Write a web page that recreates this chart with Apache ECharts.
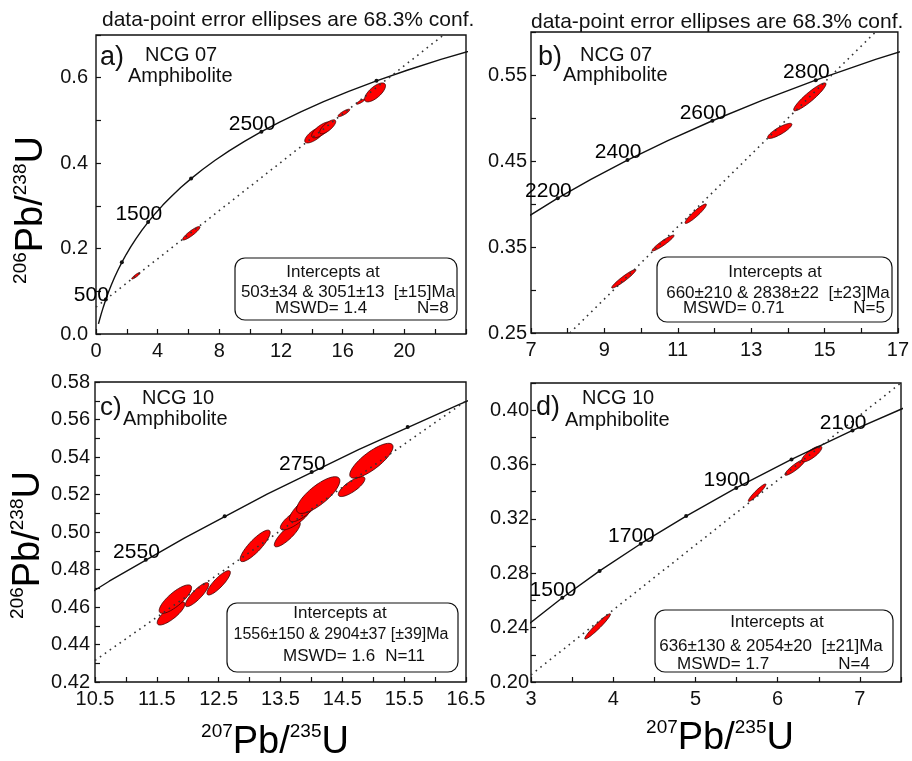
<!DOCTYPE html>
<html>
<head>
<meta charset="utf-8">
<title>U-Pb concordia diagrams NCG 07 / NCG 10</title>
<script src="https://cdn.jsdelivr.net/npm/echarts@6.0.0/dist/echarts.min.js"></script>
<style>
  html, body { margin: 0; padding: 0; background: #fff; }
  #chart { width: 912px; height: 761px; }
</style>
</head>
<body>
<div id="chart"></div>
<script>
// concordia curve [207Pb/235U, 206Pb/238U], 150 Ma then every 100 Ma up to 3300 Ma
const concordia = [
  [0.1592, 0.02354], [0.2177, 0.03151], [0.3437, 0.04764], [0.4828, 0.06402],
  [0.6363, 0.08065], [0.8056, 0.09754], [0.9925, 0.11470], [1.1987, 0.13213],
  [1.4263, 0.14983], [1.6774, 0.16780], [1.9545, 0.18606], [2.2603, 0.20460],
  [2.5977, 0.22344], [2.9701, 0.24256], [3.3810, 0.26199], [3.8344, 0.28172],
  [4.3348, 0.30175], [4.8869, 0.32211], [5.4962, 0.34277], [6.1685, 0.36377],
  [6.9105, 0.38509], [7.7291, 0.40674], [8.6326, 0.42873], [9.6296, 0.45107],
  [10.7297, 0.47375], [11.9437, 0.49679], [13.2834, 0.52019], [14.7617, 0.54396],
  [16.3929, 0.56810], [18.1931, 0.59261], [20.1795, 0.61751], [22.3716, 0.64280],
  [24.7905, 0.66848]
]

// age marks on the concordia [x, y, age Ma]
const marksA = [[0.6363, 0.08065, 500], [1.6774, 0.1678, 1000], [3.3810, 0.26199, 1500],
  [6.1685, 0.36377, 2000], [10.7297, 0.47375, 2500], [18.1931, 0.59261, 3000]]
const marksB = [[7.7291, 0.40674, 2200], [9.6296, 0.45107, 2400], [11.9437, 0.49679, 2600],
  [14.7617, 0.54396, 2800]]
const marksC = [[11.3218, 0.48523, 2550], [12.5970, 0.50845, 2650], [14.0043, 0.53203, 2750],
  [15.5572, 0.55598, 2850]]
const marksD = [[3.3810, 0.26199, 1500], [3.8344, 0.28172, 1600], [4.3348, 0.30175, 1700],
  [4.8869, 0.32211, 1800], [5.4962, 0.34277, 1900], [6.1685, 0.36377, 2000], [6.9105, 0.38509, 2100]]

// which age marks carry a label
const labeledA = [500, 1500, 2500]
const labeledB = [2200, 2400, 2600, 2800]
const labeledC = [2550, 2750]
const labeledD = [1500, 1700, 1900, 2100]

// discordia chords (two points on each line)
const discA = [[0, 0.063], [22.54, 0.70]]
const discB = [[8.06, 0.25], [16.39, 0.60]]
const discC = [[10.5, 0.4315], [16.5, 0.5699]]
const discD = [[3, 0.2053], [7.5, 0.4201]]

// error ellipses [x, y, half-width x, half-height y, rho]
const ellA = [
  [2.59, 0.1363, 0.27, 0.0075, 0.9],
  [6.18, 0.2358, 0.56, 0.0157, 0.9],
  [14.19, 0.466, 0.65, 0.0187, 0.72],
  [14.64, 0.478, 0.65, 0.0187, 0.72],
  [15.03, 0.485, 0.52, 0.0164, 0.75],
  [16.08, 0.5176, 0.38, 0.0087, 0.85],
  [17.16, 0.5438, 0.27, 0.0059, 0.85],
  [18.10, 0.5656, 0.68, 0.0222, 0.7]
]
const ellB = [
  [9.53, 0.3131, 0.33, 0.0108, 0.95],
  [10.60, 0.3546, 0.30, 0.0092, 0.94],
  [11.49, 0.3887, 0.29, 0.0113, 0.93],
  [13.78, 0.4850, 0.33, 0.0088, 0.85],
  [14.60, 0.5246, 0.44, 0.0162, 0.92]
]
const ellC = [
  [11.73, 0.4566, 0.224, 0.0062, 0.8],
  [11.80, 0.4642, 0.262, 0.0076, 0.8],
  [12.15, 0.4666, 0.189, 0.0064, 0.85],
  [12.50, 0.4729, 0.189, 0.0065, 0.85],
  [13.09, 0.4926, 0.243, 0.0084, 0.85],
  [13.61, 0.4988, 0.21, 0.0067, 0.84],
  [13.74, 0.5073, 0.243, 0.0062, 0.8],
  [13.90, 0.5131, 0.256, 0.0076, 0.8],
  [14.11, 0.5197, 0.35, 0.0098, 0.78],
  [14.65, 0.5242, 0.215, 0.0053, 0.78],
  [14.97, 0.538, 0.35, 0.0093, 0.8]
]
const ellD = [
  [3.81, 0.2409, 0.156, 0.0093, 0.96],
  [5.75, 0.3393, 0.107, 0.0064, 0.94],
  [6.21, 0.3579, 0.122, 0.0058, 0.9],
  [6.415, 0.3678, 0.122, 0.0058, 0.8]
]

const FONT = 'Liberation Sans, Arial, sans-serif'
const INK = '#111'

const chart = echarts.init(document.getElementById('chart'))

function renderEllipse(params, api) {
  const cx = api.value(0), cy = api.value(1)
  const sx = api.value(2), sy = api.value(3), r = api.value(4)
  const q = Math.sqrt(1 - r * r)
  const pts = []
  for (let i = 0; i < 60; i++) {
    const t = i / 60 * Math.PI * 2
    pts.push(api.coord([cx + sx * Math.cos(t), cy + sy * (r * Math.cos(t) + q * Math.sin(t))]))
  }
  return {
    type: 'polygon',
    shape: { points: pts },
    style: { fill: '#ff0000', stroke: '#3a0000', lineWidth: 0.8 },
  }
}

function xAxis(i, min, max, interval, fmt) {
  return {
    gridIndex: i, type: 'value', min, max, interval,
    axisLine: { show: false },
    axisTick: { inside: true, length: 5, lineStyle: { color: INK, width: 1.2 } },
    splitLine: { show: false },
    axisLabel: { formatter: fmt, color: INK, fontSize: 20, fontFamily: FONT, margin: 7, showMaxLabel: true },
  }
}

function yAxis(i, min, max, interval, fmt, margin) {
  return {
    gridIndex: i, type: 'value', min, max, interval,
    axisLine: { show: false },
    axisTick: { inside: true, length: 5, lineStyle: { color: INK, width: 1.2 } },
    splitLine: { show: false },
    axisLabel: { formatter: fmt, color: INK, fontSize: 20, fontFamily: FONT, margin },
  }
}

function panelSeries(i, ell, disc, marks, labeled) {
  return [
    {
      type: 'custom', xAxisIndex: i, yAxisIndex: i, renderItem: renderEllipse,
      encode: { x: 0, y: 1 }, data: ell, clip: true, z: 2, silent: true,
    },
    {
      type: 'line', xAxisIndex: i, yAxisIndex: i, data: concordia, showSymbol: false,
      clip: true, z: 3, silent: true,
      lineStyle: { color: INK, width: 1.4 },
    },
    {
      type: 'line', xAxisIndex: i, yAxisIndex: i, data: disc, showSymbol: false,
      clip: true, z: 4, silent: true,
      lineStyle: { color: '#333', width: 1.6, type: [1.6, 4.4] },
    },
    {
      type: 'scatter', xAxisIndex: i, yAxisIndex: i, symbolSize: 4, z: 5, silent: true,
      itemStyle: { color: INK, opacity: 1 },
      data: marks.map(m => ({
        value: [m[0], m[1]],
        label: {
          show: labeled.includes(m[2]), formatter: String(m[2]),
          position: 'left', distance: 0, align: 'right', verticalAlign: 'bottom',
          // the lowest mark of panel a has its label pushed further left
          offset: m[2] === 500 ? [5, 6] : [16, 3],
          color: '#000', fontSize: 21, fontFamily: FONT, textBorderWidth: 0,
        },
      })),
    },
  ]
}

function txt(x, y, text, size, align) {
  return {
    type: 'text', x, y, z: 20, silent: true,
    style: { text, fill: INK, font: size + 'px ' + FONT, align: align || 'left', verticalAlign: 'middle' },
  }
}

function box(x, y, w, h) {
  return {
    type: 'rect', z: 15, silent: true,
    shape: { x, y, width: w, height: h, r: 10 },
    style: { fill: '#fff', stroke: INK, lineWidth: 1.2 },
  }
}

const pbRich = {
  s: { fontSize: 19, fontFamily: FONT, color: INK, verticalAlign: 'top', lineHeight: 40 },
  b: { fontSize: 38, fontFamily: FONT, color: INK, verticalAlign: 'bottom', lineHeight: 40 },
}

function axisTitle(x, y, text, rot) {
  return {
    type: 'text', x, y, rotation: rot, z: 20, silent: true,
    style: { text, rich: pbRich, align: 'center', verticalAlign: 'middle' },
  }
}

const gridStyle = { show: true, borderColor: INK, borderWidth: 1.4, backgroundColor: 'transparent' }
const near = (v, step) => Math.abs(v / step - Math.round(v / step)) < 1e-6

chart.setOption({
  animation: false,
  backgroundColor: '#fff',
  grid: [
    { left: 96, top: 35, width: 370, height: 299, ...gridStyle },
    { left: 531, top: 32, width: 369, height: 301, ...gridStyle },
    { left: 95, top: 382, width: 371, height: 300, ...gridStyle },
    { left: 531, top: 383, width: 370, height: 299, ...gridStyle },
  ],
  xAxis: [
    xAxis(0, 0, 24, 2, v => (near(v, 4) && v < 23) ? String(Math.round(v)) : ''),
    xAxis(1, 7, 17, 1, v => (Math.round(v) % 2 === 1) ? String(Math.round(v)) : ''),
    xAxis(2, 10.5, 16.5, 0.5, v => near(v - 0.5, 1) ? v.toFixed(1) : ''),
    xAxis(3, 3, 7.5, 0.5, v => (near(v, 1) && v < 7.3) ? String(Math.round(v)) : ''),
  ],
  yAxis: [
    yAxis(0, 0, 0.7, 0.1, v => (near(v, 0.2) && v < 0.65) ? v.toFixed(1) : '', 8),
    yAxis(1, 0.25, 0.6, 0.05, v => near(v - 0.05, 0.1) ? v.toFixed(2) : '', 4),
    yAxis(2, 0.42, 0.58, 0.01, v => near(v, 0.02) ? v.toFixed(2) : '', 5),
    yAxis(3, 0.2, 0.42, 0.02, v => (near(v, 0.04) && v < 0.41) ? v.toFixed(2) : '', 2),
  ],
  series: [
    ...panelSeries(0, ellA, discA, marksA, labeledA),
    ...panelSeries(1, ellB, discB, marksB, labeledB),
    ...panelSeries(2, ellC, discC, marksC, labeledC),
    ...panelSeries(3, ellD, discD, marksD, labeledD),
  ],
  graphic: [
    txt(102, 20, 'data-point error ellipses are 68.3% conf.', 21),
    txt(531, 22, 'data-point error ellipses are 68.3% conf.', 21),

    txt(100, 58, 'a)', 27), txt(145, 55, 'NCG 07', 20), txt(128, 76, 'Amphibolite', 20),
    txt(538, 58, 'b)', 27), txt(580, 55, 'NCG 07', 20), txt(563, 75, 'Amphibolite', 20),
    txt(100, 408, 'c)', 26), txt(142, 398, 'NCG 10', 20), txt(123, 419, 'Amphibolite', 20),
    txt(536, 408, 'd)', 27), txt(582, 398, 'NCG 10', 20), txt(565, 420, 'Amphibolite', 20),

    box(235, 258, 222, 62),
    txt(333, 272, 'Intercepts at', 17, 'center'),
    txt(348, 292, '503±34 & 3051±13  [±15]Ma', 17, 'center'),
    txt(275, 308, 'MSWD= 1.4', 17), txt(417, 308, 'N=8', 17),

    box(657, 257, 235, 65),
    txt(775, 272, 'Intercepts at', 17, 'center'),
    txt(778, 293, '660±210 & 2838±22  [±23]Ma', 17, 'center'),
    txt(683, 308, 'MSWD= 0.71', 17), txt(885, 308, 'N=5', 17, 'right'),

    box(227, 603, 231, 69),
    txt(340, 613, 'Intercepts at', 17, 'center'),
    txt(341, 635, '1556±150 & 2904±37 [±39]Ma', 16, 'center'),
    txt(283, 656, 'MSWD= 1.6', 17), txt(425, 656, 'N=11', 17, 'right'),

    box(655, 610, 238, 62),
    txt(777, 622, 'Intercepts at', 17, 'center'),
    txt(771, 646, '636±130 & 2054±20  [±21]Ma', 17, 'center'),
    txt(677, 664, 'MSWD= 1.7', 17), txt(870, 664, 'N=4', 17, 'right'),

    axisTitle(31, 210, '{s|206}{b|Pb/}{s|238}{b|U}', Math.PI / 2),
    axisTitle(28, 545, '{s|206}{b|Pb/}{s|238}{b|U}', Math.PI / 2),
    axisTitle(275, 742, '{s|207}{b|Pb/}{s|235}{b|U}', 0),
    axisTitle(720, 738, '{s|207}{b|Pb/}{s|235}{b|U}', 0),
  ],
})
</script>
</body>
</html>
